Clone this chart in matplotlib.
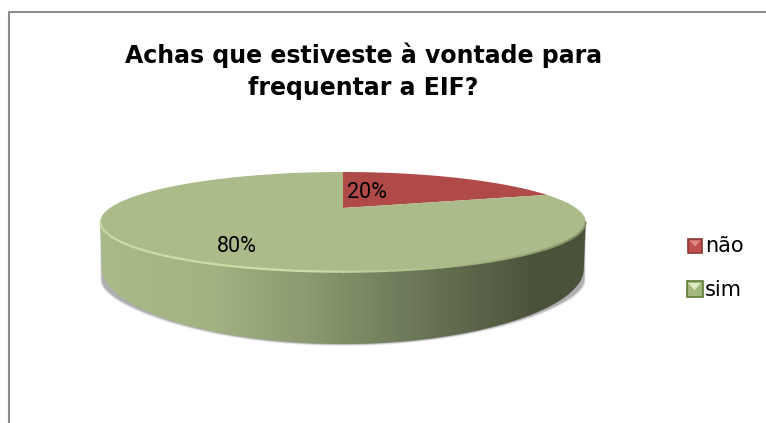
import numpy as np
import matplotlib
matplotlib.use("Agg")
import matplotlib.pyplot as plt
from matplotlib.patches import Polygon, Rectangle
from matplotlib.collections import LineCollection
from matplotlib.colors import LinearSegmentedColormap

title_lines = ["Achas que estiveste à vontade para", "frequentar a EIF?"]
categories = ["não", "sim"]
values = [20, 80]
labels = ["20%", "80%"]
colors = ["#B04A48", "#ABBB8A"]

W, H = 766, 423
fig = plt.figure(figsize=(W / 100, H / 100), dpi=100)
ax = fig.add_axes([0, 0, 1, 1])
ax.set_xlim(0, W)
ax.set_ylim(H, 0)
ax.axis("off")

# perspective pie geometry
CX, CY, A, B, K = 343, 208, 233, 46.08, 0.28
DEPTH, DK = 41.4, 0.425


def project(t):
    X, Y = np.sin(t), np.cos(t)
    d = 1 + K * Y
    return CX + A * X / d, CY - B * Y / d


def lower(t):
    x, y = project(t)
    Y = np.cos(t)
    return CX + (x - CX) * 0.992, y + DEPTH / (1 + DK * Y)


t_front = np.linspace(np.pi * 0.59, np.pi * 1.41, 300)
xt, yt = project(t_front)
xb, yb = lower(t_front)

# shadow
for grow, alpha in [(7, .08), (5, .12), (3, .18), (1.5, .26)]:
    sx = CX + (xb - CX) * (1 + grow * 0.0012)
    sy = yb + grow * 0.3 + 12 * np.abs(np.sin(t_front)) ** 6
    ax.add_patch(Polygon(np.c_[np.r_[sx, xt[::-1]], np.r_[sy, yt[::-1]]],
                         fc="#606068", ec="none", alpha=alpha, zorder=1))

# side wall with horizontal gradient
side_cmap = LinearSegmentedColormap.from_list("side", [
    (0.00, "#A9BA88"), (0.22, "#A3B382"), (0.42, "#8C9B70"),
    (0.60, "#727F5D"), (0.78, "#5A6347"), (0.90, "#4B523A"), (1.00, "#4B523A")])
wall = Polygon(np.c_[np.r_[xb, xt[::-1]], np.r_[yb, yt[::-1]]], fc="none", ec="none",
               transform=ax.transData)
ax.add_patch(wall)
im = ax.imshow(np.linspace(0, 1, 512)[None, :], cmap=side_cmap, aspect="auto",
               extent=(100, 586, H, 0), zorder=2, interpolation="bilinear")
im.set_clip_path(wall)
ax.set_xlim(0, W)
ax.set_ylim(H, 0)

# top wedges from values
fractions = np.array(values) / sum(values)
start = 0.0
for v, c in zip(fractions, colors):
    ts = np.linspace(start, start + v * 2 * np.pi, 300)
    px, py = project(ts)
    ax.add_patch(Polygon(np.c_[np.r_[CX, px], np.r_[CY, py]], fc=c, ec="none", zorder=3))
    start += v * 2 * np.pi

# bevel highlight along the front rim
pts = np.c_[xt, yt - 0.3].reshape(-1, 1, 2)
segs = np.concatenate([pts[:-1], pts[1:]], axis=1)
bevel_cmap = LinearSegmentedColormap.from_list("bevel", [
    (0, "#CFE3A8"), (0.45, "#CDE0A8"), (0.62, "#B4C892"), (0.85, "#9CAB7C"), (1, "#7F8C64")])
lc = LineCollection(segs, cmap=bevel_cmap, linewidths=1.6, zorder=4)
lc.set_array((xt[:-1] - 100) / 486)
lc.set_clim(0, 1)
ax.add_collection(lc)

# frame
frame = "#8C8C8C"
ax.plot([9, 9, W], [H, 12, 12], color=frame, lw=1.5, zorder=5, solid_joinstyle="miter")

# title
for line, y in zip(title_lines, [63, 94.5]):
    ax.text(363.5, y, line, ha="center", va="baseline", fontsize=17, fontweight="bold",
            family="DejaVu Sans", color="black", zorder=6)

# data labels
for lab, (x, y) in zip(labels, [(367, 192), (237, 246)]):
    ax.text(x, y, lab, ha="center", va="center", fontsize=15.5, family="Roboto",
            color="black", zorder=6)

# legend
boxes = [(688, 239, 14), (686.5, 281.5, 16)]
fills = ["#BE4F4C", "#A3B67E"]
edges = ["#8C3836", "#5F7A35"]
tris = ["#DE8A88", "#DCE8C4"]
for cat, (bx, by, s), c, edge, tc in zip(categories, boxes, fills, edges, tris):
    ax.add_patch(Rectangle((bx, by), s, s, fc=c, ec=edge, lw=1.2, zorder=6))
    ax.add_patch(Polygon([(bx + 1.5, by + 1.5), (bx + s - 1.5, by + 1.5), (bx + s / 2, by + s * 0.55)],
                         fc=tc, ec="none", zorder=7))
    ax.text(705, by + s / 2, cat, ha="left", va="center", fontsize=15, family="DejaVu Sans",
            color="black", zorder=6)

fig.savefig("out.png", dpi=100)
